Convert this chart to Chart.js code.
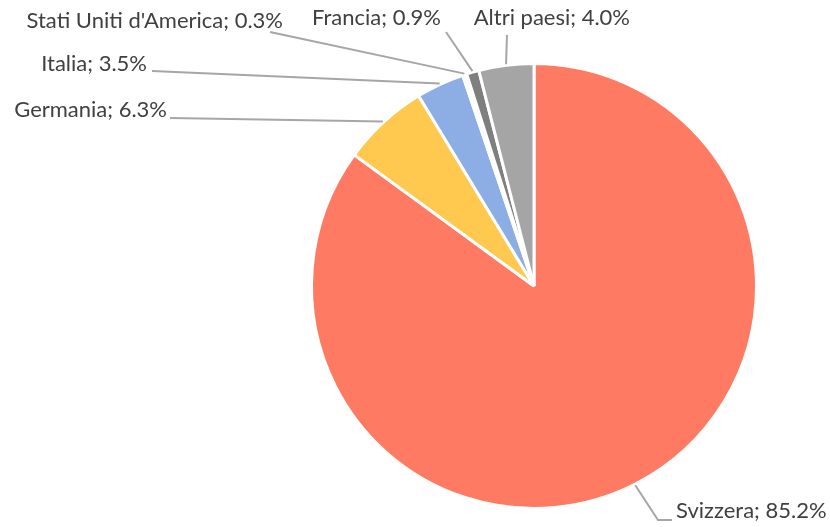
<!DOCTYPE html>
<html>
<head>
<meta charset="utf-8">
<script src="https://cdn.jsdelivr.net/npm/chart.js@4"></script>
<style>
  html, body { margin: 0; padding: 0; background: #fff; }
  #wrap { width: 830px; height: 527px; }
</style>
</head>
<body>
<div id="wrap"><canvas id="myChart" width="830" height="527"></canvas></div>
<script>
var countries = ['Svizzera', 'Germania', 'Italia', "Stati Uniti d'America", 'Francia', 'Altri paesi'];
var shares = [85.2, 6.3, 3.5, 0.3, 0.9, 4.0];
var colors = ['#FF7A63', '#FFC94F', '#8DAEE4', '#FFFFFF', '#7F7F7F', '#A5A5A5'];

// where each label sits and where its leader line starts
var labelSpots = [
  {x: 676, y: 511, align: 'left',  line: [[672, 520], [658, 520]]},
  {x: 167, y: 110, align: 'right', line: [[170, 118]]},
  {x: 147, y: 64,  align: 'right', line: [[152, 71]]},
  {x: 283, y: 21,  align: 'right', line: [[270, 32]]},
  {x: 441, y: 18,  align: 'right', line: [[446, 32]]},
  {x: 630, y: 18,  align: 'right', line: [[507, 35]]}
];

var leaderLabels = {
  id: 'leaderLabels',
  afterDraw: function(chart) {
    var c = chart.ctx;
    var arcs = chart.getDatasetMeta(0).data;
    c.save();
    c.font = '22px Lato, "Open Sans", sans-serif';
    c.textBaseline = 'middle';
    arcs.forEach(function(arc, i) {
      var p = arc.getProps(['x', 'y', 'startAngle', 'endAngle', 'outerRadius'], true);
      var mid = (p.startAngle + p.endAngle) / 2;
      var ax = p.x + Math.cos(mid) * (p.outerRadius + 1);
      var ay = p.y + Math.sin(mid) * (p.outerRadius + 1);
      var spot = labelSpots[i];
      c.strokeStyle = '#A6A6A6';
      c.lineWidth = 2;
      c.beginPath();
      c.moveTo(spot.line[0][0], spot.line[0][1]);
      for (var k = 1; k < spot.line.length; k++) c.lineTo(spot.line[k][0], spot.line[k][1]);
      c.lineTo(ax, ay);
      c.stroke();
      c.fillStyle = '#404040';
      c.textAlign = spot.align;
      c.fillText(countries[i] + '; ' + shares[i].toFixed(1) + '%', spot.x, spot.y);
    });
    c.restore();
  }
};

var ctx = document.getElementById('myChart').getContext('2d');
var myChart = new Chart(ctx, {
  type: 'pie',
  data: {
    labels: countries,
    datasets: [{
      data: shares,
      backgroundColor: colors,
      borderColor: '#FFFFFF',
      borderWidth: 3
    }]
  },
  options: {
    responsive: false,
    animation: false,
    layout: { padding: { left: 310, right: 72, top: 62, bottom: 17 } },
    plugins: {
      legend: { display: false },
      tooltip: { enabled: false }
    }
  },
  plugins: [leaderLabels]
});
</script>
</body>
</html>
